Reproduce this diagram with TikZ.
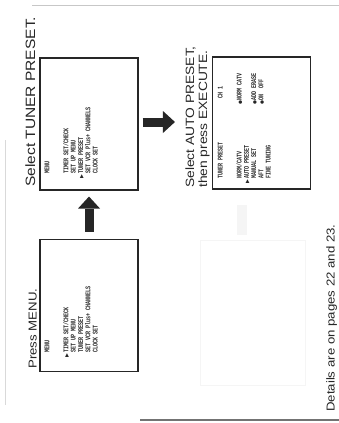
\documentclass[tikz,border=0pt]{standalone}
\usepackage{fontspec}
\usetikzlibrary{arrows.meta,positioning}
\newfontfamily\capfont[FakeStretch=1.15]{Liberation Sans}
\newfontfamily\osdfont[FakeStretch=0.7]{Liberation Mono}
\newfontfamily\symfont{DejaVu Sans}
\definecolor{inkgray}{HTML}{262626}
\newcommand{\cur}{\llap{{\symfont\fontsize{5}{5}\selectfont ▶}\hspace{1pt}}}
\newcommand{\bul}{{\symfont\fontsize{4.5}{5}\selectfont ●}}
\newcommand{\osdrow}[3]{\makebox[#1][l]{#2}#3}
\begin{document}
\begin{tikzpicture}[x=1pt,y=-1pt,
  screen/.style={draw=inkgray,line width=1.1pt,rotate=90,minimum width=132pt,
    minimum height=98pt,inner sep=0pt},
  osd/.style={rotate=90,anchor=north west,inner sep=0pt,align=left,text=inkgray,
    font=\osdfont\bfseries\fontsize{7.2}{7.3}\selectfont},
  caption/.style={rotate=90,anchor=base west,inner sep=0pt,text=inkgray,
    font=\capfont\fontsize{12}{13}\selectfont},
  blockarrow/.style={line width=9pt,inkgray,
    -{Triangle[length=12pt,width=22pt,line width=0pt]}}]
\useasboundingbox[fill=white] (0,0) rectangle (339,423);

% scan edges
\draw[black!22,line width=1pt] (32,5) -- (339,5);
\draw[black!55,line width=1.5pt] (140,420) -- (339,420);
\draw[black!15,line width=0.8pt] (5,140) -- (5,405);

% show-through from the back of the page
\draw[black!4,line width=1pt] (200,240) rectangle (305,385);
\fill[black!4] (237,205) rectangle (247,235);

% screens
\node[screen] (tuner) at (89,124) {};
\node[screen] (auto) at (261.5,123) {};
\node[screen] (menu) at (89,305.5) {};

\node[osd] (tunertxt) at (44.5,174)
  {MENU\\[11.7pt]
   TIMER SET/CHECK\\
   SET UP MENU\\
   \cur TUNER PRESET\\
   SET VCR Plus+ CHANNELS\\
   CLOCK SET};
\node[osd] (menutxt) at (44.5,353)
  {MENU\\[11.7pt]
   \cur TIMER SET/CHECK\\
   SET UP MENU\\
   TUNER PRESET\\
   SET VCR Plus+ CHANNELS\\
   CLOCK SET};
\node[osd] (autotxt) at (217.5,179)
  {\osdrow{80pt}{TUNER PRESET}{CH 1}\\[11.7pt]
   \osdrow{74pt}{NORM/CATV}{\bul NORM CATV}\\
   \cur AUTO PRESET\\
   \osdrow{74pt}{MANUAL SET}{\bul ADD ERASE}\\
   \osdrow{74pt}{AFT}{\bul ON\ \ OFF}\\
   FINE TUNING};

% captions
\node[caption,font=\capfont\fontsize{13.5}{14}\selectfont] (tunercap) at (35,187) {Select TUNER PRESET.};
\node[caption] (autocap) at (194,188) {Select AUTO PRESET,};
\node[caption] (execcap) at (207,188) {then press EXECUTE.};
\node[caption,font=\capfont\fontsize{11.5}{13}\selectfont] (menucap) at (36.5,369) {Press MENU.};
\node[caption,font=\capfont\fontsize{11.5}{13}\selectfont] (details) at (334.5,412) {Details are on pages 22 and 23.};

% steps
\draw[blockarrow] ([yshift=7pt]menu.east) -- ([yshift=-6pt]tuner.west);
\draw[blockarrow] ([shift={(4,-2)}]tuner.south) -- ([shift={(-37,-1)}]auto.north);
\end{tikzpicture}
\end{document}
